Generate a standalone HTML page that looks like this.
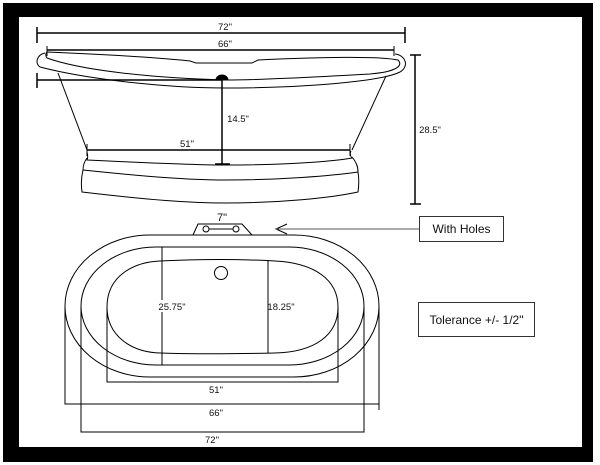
<!DOCTYPE html>
<html><head><style>
html,body{margin:0;padding:0;background:#fff;}
svg{display:block;}
text{font-family:"Liberation Sans",sans-serif;fill:#111;}
</style></head><body>
<svg width="600" height="465" viewBox="0 0 600 465" xmlns="http://www.w3.org/2000/svg">
<rect x="0" y="0" width="600" height="465" fill="#fff"/>
<rect x="3" y="3" width="590" height="459" fill="#000"/>
<rect x="19" y="17" width="563" height="430" fill="#fff"/>
<g stroke="#000" stroke-width="1" fill="none">
<line x1="37" y1="33" x2="405" y2="33" stroke-width="1.5"/>
<line x1="37" y1="27" x2="37" y2="43" stroke-width="1.5"/>
<line x1="405" y1="27" x2="405" y2="43" stroke-width="1.5"/>
<line x1="47" y1="50" x2="394" y2="50" stroke-width="1.5"/>
<line x1="47" y1="46" x2="47" y2="56"/>
<line x1="394" y1="46" x2="394" y2="56"/>
<path d="M47,52 C120,55 160,58 190,61 L196,63 L252,63 L258,60 C320,57 380,56 398,60 C404,66 395,72 370,74 C300,78 250,80 225,80 C150,78 80,70 47,58 C45,55 46,53 47,52Z"/>
<path d="M45,53 C36,55 35,64 40,67 C90,80 170,88 225,88 C300,88 380,82 400,72 C410,66 405,55 395,54"/>
<line x1="58" y1="73" x2="87" y2="150"/>
<line x1="386" y1="76" x2="352" y2="150"/>
<line x1="37" y1="80" x2="222" y2="80" stroke-width="1.5"/>
<line x1="37" y1="73" x2="37" y2="88" stroke-width="1.5"/>
<path d="M216,80 A6,5 0 0 1 228,80Z" fill="#000"/>
<line x1="222" y1="80" x2="222" y2="164" stroke-width="1.5"/>
<line x1="215" y1="164" x2="230" y2="164" stroke-width="1.5"/>
<line x1="87" y1="150" x2="350" y2="150" stroke-width="1.5"/>
<line x1="87" y1="144" x2="87" y2="156"/>
<line x1="350" y1="144" x2="350" y2="156"/>
<path d="M87,152 C88,156 88,158 87,160 C150,163 200,165 225,165 C280,165 330,162 352,158 C350,156 350,153 351,151"/>
<path d="M87,158 C84,162 83,166 83,170 C150,177 190,180 225,180 C280,180 330,176 358,172 C358,166 356,162 352,157"/>
<path d="M83,170 C81,178 81,185 82,192 C150,200 190,203 225,203 C280,203 330,198 358,192 C359,185 359,178 358,172"/>
<line x1="415" y1="55" x2="415" y2="204" stroke-width="1.5"/>
<line x1="410" y1="55" x2="421" y2="55" stroke-width="1.5"/>
<line x1="410" y1="204" x2="421" y2="204" stroke-width="1.5"/>
<path d="M193,235 L198,224 L242,224 L252,235"/>
<circle cx="206" cy="229" r="3"/>
<circle cx="236" cy="229" r="3"/>
<line x1="209" y1="229" x2="233" y2="229"/>
<path d="M287,224 L276,229 L287,234"/>
<line x1="276" y1="229" x2="419" y2="229" stroke="#555"/>
<rect x="65" y="235" width="314" height="142" rx="85" ry="71"/>
<rect x="81" y="247" width="283" height="118" rx="75" ry="59"/>
<path d="M107,307 C107,275 135,262 160,261 C200,259 240,259 275,261 C315,263 338,280 338,307 C338,335 315,352 275,353 C230,354 190,354 160,353 C130,352 107,335 107,307Z"/>
<circle cx="221" cy="273" r="6.5"/>
<line x1="162" y1="247" x2="162" y2="365"/>
<line x1="268" y1="260" x2="268" y2="353"/>
<polyline points="107,307 107,382 338,382 338,307"/>
<polyline points="65,307 65,404 379,404"/>
<line x1="379" y1="307" x2="379" y2="410"/>
<polyline points="81,307 81,432 364,432 364,307"/>
<rect x="419.5" y="216.5" width="84" height="25" stroke="#333"/>
<rect x="418.5" y="302.5" width="116" height="34" stroke="#333"/>
</g>
<rect x="158" y="300" width="28" height="12" fill="#fff"/>
<g font-size="9.5" text-anchor="middle">
<text x="225" y="30">72"</text>
<text x="225" y="47">66"</text>
<text x="238" y="122">14.5"</text>
<text x="187" y="147">51"</text>
<text x="430" y="133">28.5"</text>
<text x="222" y="221" font-size="11">7"</text>
<text x="172" y="310">25.75"</text>
<text x="281" y="310">18.25"</text>
<text x="216" y="393">51"</text>
<text x="216" y="416">66"</text>
<text x="212" y="443">72"</text>
</g>
<text x="461.5" y="233" font-size="12" text-anchor="middle">With Holes</text>
<text x="476.5" y="324" font-size="12" text-anchor="middle">Tolerance +/- 1/2"</text>
</svg>
</body></html>
